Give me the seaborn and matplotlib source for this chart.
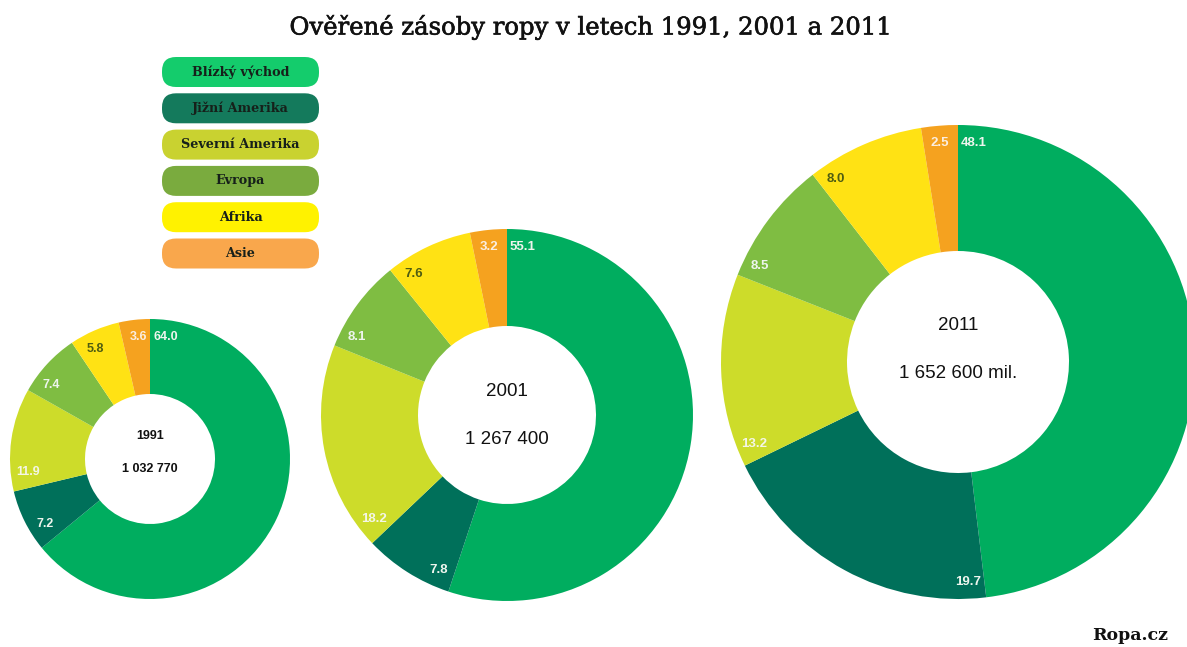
import numpy as np
import matplotlib
matplotlib.use("Agg")
import matplotlib.pyplot as plt
from matplotlib.patches import FancyBboxPatch
import matplotlib.patheffects as pe
import seaborn as sns

# ---------------- data ----------------
regions = ["Blízký východ", "Jižní Amerika", "Severní Amerika", "Evropa", "Afrika", "Asie"]
years = ["1991", "2001", "2011"]
totals = ["1 032 770", "1 267 400", "1 652 600 mil."]
share_1991 = [64.0, 7.2, 11.9, 7.4, 5.8, 3.6]
share_2001 = [55.1, 7.8, 18.2, 8.1, 7.6, 3.2]
share_2011 = [48.1, 19.7, 13.2, 8.5, 8.0, 2.5]
shares = [share_1991, share_2001, share_2011]

title = "Ověřené zásoby ropy v letech 1991, 2001 a 2011"
source = "Ropa.cz"

# ---------------- style ----------------
pie_colors = ["#00ad5f", "#00705a", "#cddc2a", "#7fbd42", "#ffe214", "#f5a21f"]
legend_colors = ["#14cc6c", "#147a5c", "#c9d230", "#7aab3e", "#fff200", "#f9a74c"]
label_colors = ["#eef5ee", "#eef5ee", "#f4f6e6", "#eef5ee", "#4f5d12", "#fbeee0"]

sns.set_theme(style="white")
plt.rcParams["font.family"] = ["Liberation Sans", "DejaVu Sans"]

W, H = 1187, 647
fig = plt.figure(figsize=(W / 100, H / 100), dpi=100)
ax = fig.add_axes([0, 0, 1, 1])
palette = sns.color_palette(pie_colors)

def Y(y):
    return H - y

# layout (pixel coordinates, y measured from top)
centers = [(150, 459), (507, 415), (958, 362)]
radii = [140, 186, 237]
holes = [65, 89, 111]
label_sizes = [9, 9.5, 9.5]
center_text = [
    dict(size=9, weight="bold", dy=(-23, 10)),
    dict(size=13.5, weight="normal", dy=(-24, 25)),
    dict(size=13.5, weight="normal", dy=(-37, 12)),
]

for vals, (cx, cy), r, rin, yr, tot, ct, ls in zip(shares, centers, radii, holes, years,
                                                  totals, center_text, label_sizes):
    ax.pie(vals, colors=palette, startangle=90, counterclock=False,
           radius=r, center=(cx, Y(cy)), frame=True,
           wedgeprops=dict(width=r - rin, edgecolor="none", linewidth=0))
    total = sum(vals)
    cum = np.concatenate([[0], np.cumsum(vals)[:-1]])
    r_lab = r - 17
    off = np.degrees(16.0 / r_lab)
    for v, c0, col in zip(vals, cum, label_colors):
        ang = np.radians(90 - 360 * c0 / total - off)
        ax.text(cx + r_lab * np.cos(ang), Y(cy) + r_lab * np.sin(ang), f"{v:.1f}",
                ha="center", va="center", fontsize=ls, fontweight="bold", color=col)
    ax.text(cx, Y(cy + ct["dy"][0]), yr, ha="center", va="center",
            fontsize=ct["size"], fontweight=ct["weight"], color="#111111")
    ax.text(cx, Y(cy + ct["dy"][1]), tot, ha="center", va="center",
            fontsize=ct["size"], fontweight=ct["weight"], color="#111111")

# legend boxes
bx, bw, bh = 162, 157, 30
y0, step = 72, 36.3
for i, (name, col) in enumerate(zip(regions, legend_colors)):
    yc = y0 + i * step
    box = FancyBboxPatch((bx, Y(yc) - bh / 2), bw, bh,
                         boxstyle="round,pad=0,rounding_size=14",
                         facecolor=col, edgecolor="none", zorder=3)
    ax.add_patch(box)
    ax.text(bx + bw / 2, Y(yc), name, ha="center", va="center", fontsize=9.2,
            fontweight="bold", family=["DejaVu Serif"], color="#16201a", zorder=4)

ax.text(591, Y(27), title, ha="center", va="center", fontsize=17.5,
        family=["DejaVu Serif"], color="#111111",
        path_effects=[pe.withStroke(linewidth=0.45, foreground="#111111")])
ax.text(1168, Y(636), source, ha="right", va="center", fontsize=12.5,
        fontweight="bold", family=["DejaVu Serif"], color="#111111")

ax.set_xlim(0, W)
ax.set_ylim(0, H)
ax.set_aspect("equal")
ax.axis("off")
fig.savefig("out.png", dpi=100, facecolor="white")
